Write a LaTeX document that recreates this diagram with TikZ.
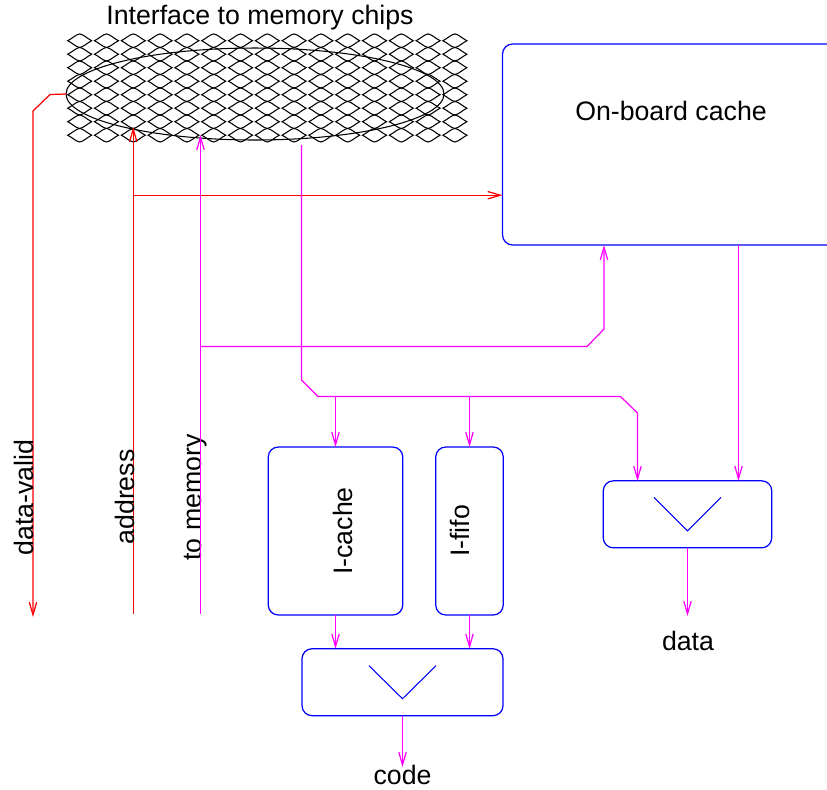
\documentclass[tikz,border=0pt]{standalone}
\usepackage{fontspec}
\setmainfont{Liberation Sans}
\usepackage{tikz}
\usetikzlibrary{arrows.meta}
\usetikzlibrary{shapes.geometric}
\definecolor{wirered}{RGB}{255,0,0}
\definecolor{wiremag}{RGB}{255,0,255}
\definecolor{boxblue}{RGB}{0,0,255}
\tikzset{chipbox/.style={rectangle,draw=boxblue,line width=0.7pt,rounded corners=0.2cm,inner sep=0pt,outer sep=0pt}}
\tikzset{redwire/.style={draw=wirered,line width=0.7pt}}
\tikzset{magwire/.style={draw=wiremag,line width=0.7pt}}
\tikzset{tag/.style={inner sep=0pt,font=\fontsize{15.2}{18}\selectfont}}
\tikzset{uptag/.style={tag,rotate=90,anchor=base}}

\begin{document}
\begin{tikzpicture}[x=0.02cm,y=-0.02cm,line width=0.6pt,>={Straight Barb[length=7.2pt,width=4.2pt]}]
\useasboundingbox (0,0) rectangle (827,789);
\clip (0,0) rectangle (827,789);
% scale pattern
\foreach \r in {0,...,7} {
	\foreach \c in {0,...,14} {
		\draw (67.7+26.8*\c,40.7+13.5*\r) .. controls +(5,-2.5) and +(-4,0.7) .. ++(12,-6.8) .. controls +(4,0.7) and +(-5,-2.5) .. ++(12,6.8) .. controls +(-5,2.5) and +(4,-0.7) .. ++(-12,6.8) .. controls +(-4,-0.7) and +(5,2.5) .. cycle;
	}
}
\node[ellipse,draw,inner sep=0pt,outer sep=0pt,minimum width=7.56cm,minimum height=1.84cm] (mem) at (255,94) {};
\node[tag] (memlabel) at (260,18) {Interface to memory chips};
% boxes
\node[chipbox,minimum width=9.44cm,minimum height=4.02cm] (cache) at (738.5,144.5) {};
\node[tag] (cachelabel) at (671,111) {On-board cache};
\node[chipbox,minimum width=2.69cm,minimum height=3.36cm] (Icache) at (335.5,531) {};
\node[chipbox,minimum width=1.35cm,minimum height=3.36cm] (Ififo) at (469.5,531) {};
\node[chipbox,minimum width=4.02cm,minimum height=1.34cm] (Mcode) at (402.5,682.2) {};
\node[chipbox,minimum width=3.37cm,minimum height=1.34cm] (Mdata) at (687.5,514.3) {};
\draw[boxblue] (Mcode.center) ++(-33.5,-16.5) -- ++(33.5,33) -- ++(33.5,-33);
\draw[boxblue] (Mdata.center) ++(-33.5,-17) -- ++(33.5,33.5) -- ++(33.5,-33.5);
\node[uptag] (Ilabel) at (352,531) {I-cache};
\node[uptag] (Flabel) at (469,531) {I-fifo};
% red wires
\coordinate (validend) at (33,617);
\coordinate (addrstart) at (133.2,614);
\coordinate (addrtip) at (133.2,127);
\draw[redwire,->] (mem.west) -- (50,94.5) -- (33,111) -- (validend);
\draw[redwire,->] (addrstart) -- (addrtip);
\draw[redwire,->] (133.2,195.2) -- (133.2,195.2 -| cache.west);
\node[uptag] (validlabel) at (33.5,497.5) {data-valid};
\node[uptag] (addrlabel) at (134,497) {address};
\node[uptag] (tomemlabel) at (201.5,497.5) {to memory};
% magenta wires
\coordinate (tomemstart) at (200.5,614);
\coordinate (tomemtip) at (200.5,135);
\coordinate (memout) at (301.5,145);
\draw[magwire,->] (tomemstart) -- (tomemtip);
\draw[magwire,->] (200.5,346.5) -- (587,346.5) -- (604,329) -- (604,245);
\draw[magwire,->] (memout) -- (301.5,380) -- (318,396.5) -- (620.5,396.5) -- (637.5,413) -- (637.5,481);
\draw[magwire,->] (cache.south) -- (cache.south |- Mdata.north);
\foreach \n in {Icache,Ififo} {
	\draw[magwire,->] (\n.north |- 0,396.5) -- (\n.north);
	\draw[magwire,->] (\n.south) -- (\n.south |- Mcode.north);
}
\coordinate (codetip) at (402.5,767);
\coordinate (datatip) at (687.5,616);
\draw[magwire,->] (Mcode.south) -- (codetip);
\draw[magwire,->] (Mdata.south) -- (datatip);
\node[tag] (codelabel) at (402.5,775) {code};
\node[tag] (datalabel) at (688,641) {data};
\end{tikzpicture}
\end{document}
